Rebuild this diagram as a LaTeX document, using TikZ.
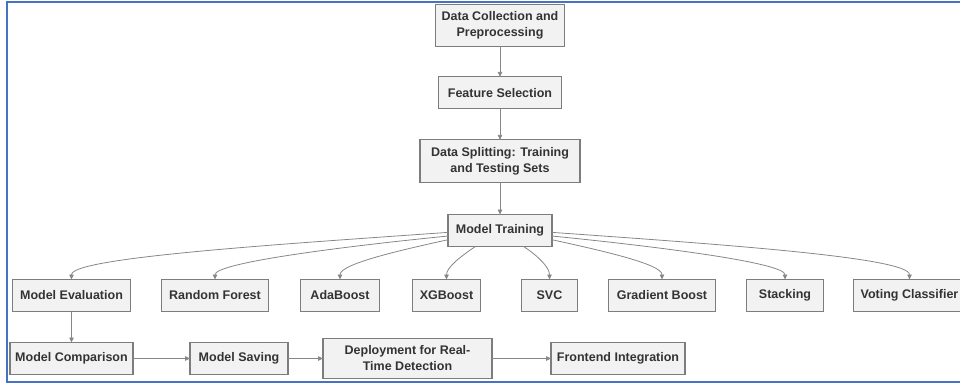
\documentclass[tikz,border=0pt]{standalone}
\usepackage{fontspec}
\setmainfont{Liberation Sans}
\usepackage{xcolor}
\usetikzlibrary{arrows.meta, positioning}
\definecolor{frameBlue}{RGB}{68, 114, 196}
\definecolor{stageFill}{RGB}{242, 242, 242}
\definecolor{stageLine}{RGB}{125, 125, 125}
\definecolor{flowGray}{RGB}{135, 135, 135}
\definecolor{stageText}{RGB}{51, 51, 51}

\begin{document}
\begin{tikzpicture}[
        x=1pt, y=-1pt,
        node distance=31pt,
        stage/.style={rectangle, draw=stageLine, fill=stageFill, line width=1.2pt, outer sep=0pt, minimum height=32pt, inner xsep=4pt, inner ysep=7.5pt, align=center, text=stageText, font=\fontsize{12.5}{16}\selectfont\bfseries},
        flow/.style={-{Triangle[length=5pt, width=4.5pt]}, flowGray, line width=0.8pt}
    ]
        \useasboundingbox (0,0) rectangle (960,383);
        % Frame
        \draw[frameBlue, line width=2pt] (965,2) -- (7,2) -- (7,381.5) -- (965,381.5);

        % Preparation chain
        \node[stage, minimum width=129pt] (collect) at (500,25.5) {Data Collection and\\Preprocessing};
        \node[stage, minimum width=123pt, below=30pt of collect] (select) {Feature Selection};
        \node[stage, minimum width=160pt, below=31pt of select] (split) {Data Splitting: Training\\and Testing Sets};
        \node[stage, minimum width=104pt, below=32pt of split] (train) {Model Training};

        % Models row
        \node[stage, minimum width=118pt] (eval) at (71.5,295.5) {Model Evaluation};
        \node[stage, minimum width=107pt, right=31pt of eval] (forest) {Random Forest};
        \node[stage, minimum width=79pt, right=32pt of forest] (ada) {AdaBoost};
        \node[stage, minimum width=68pt, right=33pt of ada] (xgb) {XGBoost};
        \node[stage, minimum width=56pt, right=41pt of xgb] (svc) {SVC};
        \node[stage, minimum width=107pt, right=31pt of svc] (gboost) {Gradient Boost};
        \node[stage, minimum width=77pt, right=31pt of gboost] (stack) {Stacking};
        \node[stage, minimum width=112pt, right=30pt of stack] (vote) {Voting Classifier};

        % Deployment row
        \node[stage, minimum width=123pt] (compare) at (71.5,358.5) {Model Comparison};
        \node[stage, minimum width=98pt, right=57pt of compare] (save) {Model Saving};
        \node[stage, minimum width=169pt, right=35pt of save] (deploy) {Deployment for Real-\\Time Detection};
        \node[stage, minimum width=134pt, right=59pt of deploy] (front) {Frontend Integration};

        \draw[flow] (collect) -- (select);
        \draw[flow] (select) -- (split);
        \draw[flow] (split) -- (train);

        % Branches to the models
        \draw[flow] (train.182) .. controls +(-170,12) and +(0,-22) .. (eval.north);
        \draw[flow] (train.186) .. controls +(-120,12) and +(0,-16) .. (forest.north);
        \draw[flow] (train.190) .. controls +(-55,12) and +(0,-15) .. (ada.north);
        \draw[flow] (train.213) .. controls +(-15,10) and +(0,-12) .. (xgb.north);
        \draw[flow] (train.326) .. controls +(15,10) and +(0,-12) .. (svc.north);
        \draw[flow] (train.350) .. controls +(55,12) and +(0,-15) .. (gboost.north);
        \draw[flow] (train.354) .. controls +(120,12) and +(0,-16) .. (stack.north);
        \draw[flow] (train.358) .. controls +(170,12) and +(0,-22) .. (vote.north);

        \draw[flow] (eval) -- (compare);
        \draw[flow] (compare) -- (save);
        \draw[flow] (save) -- (deploy);
        \draw[flow] (deploy) -- (front);
    \end{tikzpicture}
\end{document}
